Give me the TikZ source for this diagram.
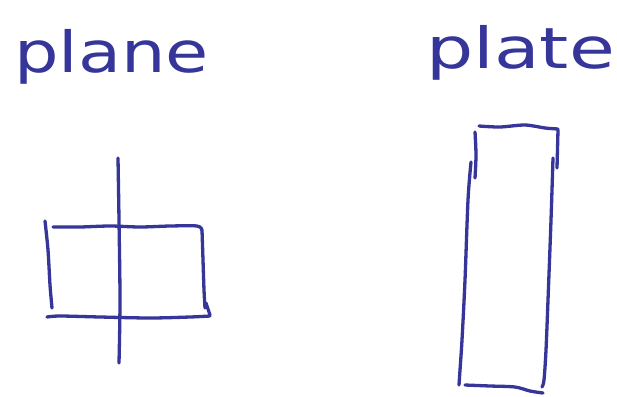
\documentclass[tikz,border=0pt]{standalone}
\usepackage{fontspec}
\setmainfont{DejaVu Sans}
\definecolor{ink}{HTML}{35359A}
\tikzset{
  pen/.style={draw=ink, line width=3.3pt, line cap=round, line join=round},
  word/.style={text=ink, inner sep=0pt, font=\fontsize{54}{54}\selectfont}
}
\begin{document}
\begin{tikzpicture}[x=1pt,y=-1pt]
\useasboundingbox (0,0) rectangle (617,396);
% labels
\node[word, anchor=base west] (plane) at (14,72) {\scalebox{1.3}[1.05]{plane}};
\node[word, anchor=base west] (plate) at (426,68) {\scalebox{1.38}[1.05]{plate}};
% plane sketch
\draw[pen] plot[smooth] coordinates {(118,158) (119,220) (120,300) (119,363)};
\draw[pen] plot[smooth] coordinates {(45,221) (48,250) (50,285) (52,308)};
\draw[pen] plot[smooth] coordinates {(53,227) (80,227) (110,226) (140,227) (170,226) (197,226) (202,230)};
\draw[pen] plot[smooth] coordinates {(202,230) (203,260) (204,290) (205,308)};
\draw[pen] (206,303) -- (210,315);
\draw[pen] plot[smooth] coordinates {(47,317) (60,316) (100,317) (150,318) (190,317) (210,316)};
% plate sketch
\draw[pen] plot[smooth] coordinates {(479,126) (500,127) (525,125) (545,128) (558,129)};
\draw[pen] (558,130) -- (557,168);
\draw[pen] plot[smooth] coordinates {(475,132) (476,155) (475,178)};
\draw[pen] plot[smooth] coordinates {(471,162) (468,200) (465,280) (462,340) (460,370) (459,385)};
\draw[pen] plot[smooth] coordinates {(553,158) (551,220) (548,300) (546,350) (544,380) (542,387)};
\draw[pen] plot[smooth] coordinates {(465,385) (490,386) (515,387) (530,391) (543,393)};
\end{tikzpicture}
\end{document}
